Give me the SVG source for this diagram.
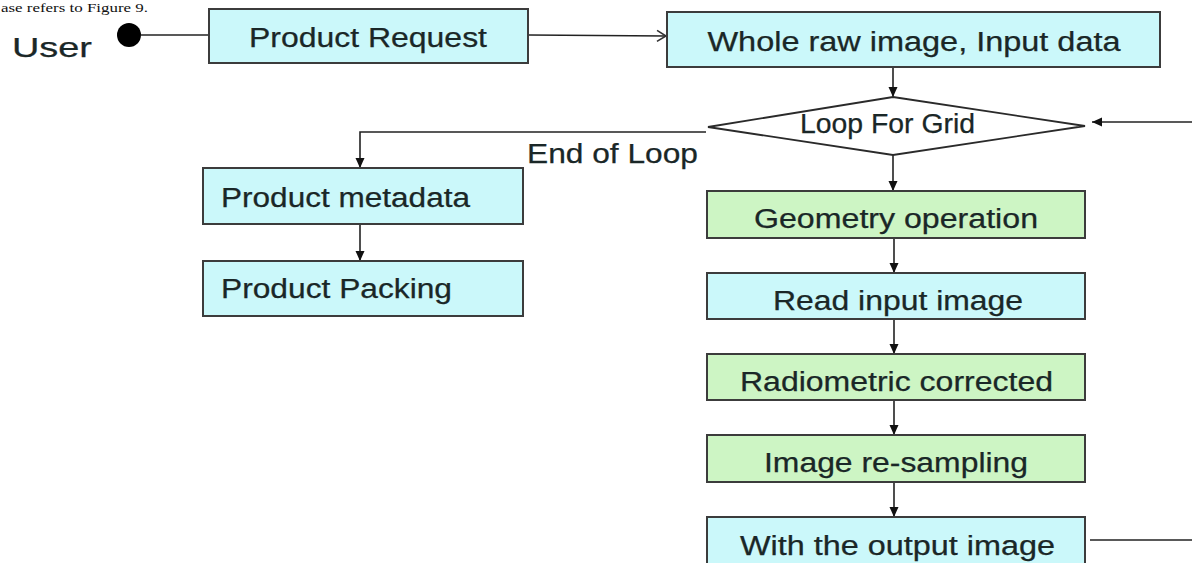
<svg xmlns="http://www.w3.org/2000/svg" width="1192" height="563" viewBox="0 0 1192 563">
<style>
.box{stroke:#3c3c3c;stroke-width:2}
.cyan{fill:#cbf8fa}
.green{fill:#cdf5c4}
.t{font-family:"Liberation Sans",Arial,sans-serif;font-size:27px;fill:#1a2727;stroke:#1a2727;stroke-width:0.25}
.c{stroke:#222;stroke-width:1.6;fill:none}
</style>
<defs>
<marker id="ah" markerUnits="userSpaceOnUse" markerWidth="12" markerHeight="12" viewBox="0 0 12 12" refX="11" refY="6" orient="auto">
<path d="M1,1.5 L11,6 L1,10.5 Z" fill="#111"/>
</marker>
<marker id="open" markerUnits="userSpaceOnUse" markerWidth="14" markerHeight="14" viewBox="0 0 14 14" refX="12" refY="7" orient="auto">
<path d="M3,1.5 L12,7 L3,12.5" fill="none" stroke="#333" stroke-width="1.6"/>
</marker>
</defs>
<rect width="1192" height="563" fill="#fff"/>
<text x="1" y="12" font-family="'Liberation Serif',serif" font-size="12" textLength="147" lengthAdjust="spacingAndGlyphs" fill="#111">ase refers to Figure 9.</text>
<g id="user">
<text class="t" x="12" y="57" font-size="37" textLength="80" lengthAdjust="spacingAndGlyphs">User</text>
<circle cx="129" cy="35" r="12" fill="#000"/>
</g>
<g id="connectors">
<line class="c" x1="141" y1="35" x2="208" y2="35"/>
<line class="c" x1="529" y1="35" x2="666" y2="36" marker-end="url(#open)"/>
<line class="c" x1="893" y1="67" x2="893" y2="97" marker-end="url(#ah)"/>
<line class="c" x1="1192" y1="122" x2="1092" y2="122" marker-end="url(#ah)"/>
<polyline class="c" points="706,132 360,132 360,168" marker-end="url(#ah)"/>
<line class="c" x1="360" y1="224" x2="360" y2="261" marker-end="url(#ah)"/>
<line class="c" x1="893" y1="155" x2="893" y2="191" marker-end="url(#ah)"/>
<line class="c" x1="894" y1="238" x2="894" y2="273" marker-end="url(#ah)"/>
<line class="c" x1="894" y1="319" x2="894" y2="354" marker-end="url(#ah)"/>
<line class="c" x1="894" y1="400" x2="894" y2="435" marker-end="url(#ah)"/>
<line class="c" x1="894" y1="482" x2="894" y2="517" marker-end="url(#ah)"/>
<line class="c" x1="1090" y1="540" x2="1192" y2="540"/>
</g>
<g id="product-request">
<rect class="box cyan" x="209" y="9" width="319" height="54"/>
<text class="t" x="368" y="47" text-anchor="middle" textLength="238" lengthAdjust="spacingAndGlyphs">Product Request</text>
</g>
<g id="whole-raw">
<rect class="box cyan" x="667" y="12" width="493" height="55"/>
<text class="t" x="914" y="51" text-anchor="middle" textLength="413" lengthAdjust="spacingAndGlyphs">Whole raw image, Input data</text>
</g>
<g id="loop">
<polygon points="893,97 1085,126 893,155 708,127" fill="#fff" stroke="#2a2a2a" stroke-width="1.8"/>
<text class="t" x="800" y="133" font-size="25" textLength="175" lengthAdjust="spacingAndGlyphs">Loop For Grid</text>
</g>
<g id="end-label">
<text class="t" x="527" y="163" font-size="26" textLength="171" lengthAdjust="spacingAndGlyphs">End of Loop</text>
</g>
<g id="product-metadata">
<rect class="box cyan" x="203" y="168" width="320" height="56"/>
<text class="t" x="221" y="207" textLength="249" lengthAdjust="spacingAndGlyphs">Product metadata</text>
</g>
<g id="product-packing">
<rect class="box cyan" x="203" y="261" width="320" height="55"/>
<text class="t" x="221" y="298" textLength="231" lengthAdjust="spacingAndGlyphs">Product Packing</text>
</g>
<g id="geometry">
<rect class="box green" x="707" y="191" width="378" height="47"/>
<text class="t" x="754" y="228" textLength="284" lengthAdjust="spacingAndGlyphs">Geometry operation</text>
</g>
<g id="read-input">
<rect class="box cyan" x="707" y="273" width="378" height="46"/>
<text class="t" x="773" y="310" textLength="250" lengthAdjust="spacingAndGlyphs">Read input image</text>
</g>
<g id="radiometric">
<rect class="box green" x="707" y="354" width="378" height="46"/>
<text class="t" x="740" y="391" textLength="313" lengthAdjust="spacingAndGlyphs">Radiometric corrected</text>
</g>
<g id="resampling">
<rect class="box green" x="707" y="435" width="378" height="47"/>
<text class="t" x="764" y="472" textLength="264" lengthAdjust="spacingAndGlyphs">Image re-sampling</text>
</g>
<g id="output">
<rect class="box cyan" x="707" y="517" width="378" height="47"/>
<text class="t" x="740" y="555" textLength="315" lengthAdjust="spacingAndGlyphs">With the output image</text>
</g>
</svg>
